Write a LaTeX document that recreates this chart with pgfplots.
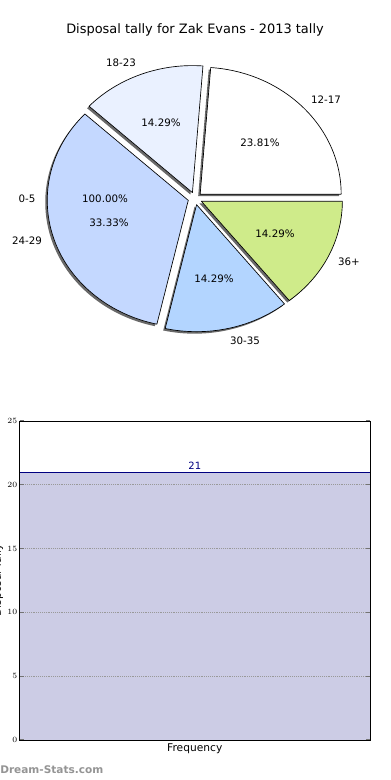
\documentclass[border=0pt]{standalone}
\usepackage{pgfplots}
\pgfplotsset{compat=1.18}
\usepackage{fontspec}
\setmainfont{DejaVu Sans}
\definecolor{c1217}{RGB}{255,255,255}
\definecolor{c1823}{RGB}{234,241,255}
\definecolor{c2429}{RGB}{196,216,255}
\definecolor{c3035}{RGB}{179,213,255}
\definecolor{c36}{RGB}{207,235,138}
\definecolor{shad}{RGB}{105,105,105}
\definecolor{areafill}{RGB}{204,204,229}
\definecolor{navyc}{RGB}{0,0,128}
% pie: counts per age group (total 21)
% #1 = count before slice, #2 = count of slice, #3 = colour
\newcommand\pieshadow[2]{%
  \pgfmathsetmacro\aS{#1*360/21}\pgfmathsetmacro\aE{(#1+#2)*360/21}\pgfmathsetmacro\aM{(#1+#2/2)*360/21}%
  \fill[shad] ([shift={(\aM:5.29pt and 4.76pt)},shift={(-1.5pt,-1.5pt)}]pc) -- ++(\aS:105.75pt and 95.25pt)
    arc[start angle=\aS, end angle=\aE, x radius=105.75pt, y radius=95.25pt] -- cycle;}
\newcommand\pieslice[3]{%
  \pgfmathsetmacro\aS{#1*360/21}\pgfmathsetmacro\aE{(#1+#2)*360/21}\pgfmathsetmacro\aM{(#1+#2/2)*360/21}%
  \filldraw[fill=#3, draw=black, line width=0.5pt, line join=round] ([shift={(\aM:5.29pt and 4.76pt)}]pc) -- ++(\aS:105.75pt and 95.25pt)
    arc[start angle=\aS, end angle=\aE, x radius=105.75pt, y radius=95.25pt] -- cycle;}
\begin{document}
\begin{tikzpicture}
\begin{scope}[x=0.75pt,y=-0.75pt]
\path[use as bounding box] (0,0) rectangle (390,780);
\node[font=\fontsize{9.7}{11}\selectfont] at (195,30) {Disposal tally for Zak Evans - 2013 tally};
\node[anchor=west, text=black!42, font=\bfseries\fontsize{7.9}{9}\selectfont, inner sep=0pt] at (0,770) {Dream-Stats.com};
\node[rotate=90, anchor=base, font=\fontsize{8}{9}\selectfont, inner sep=0pt] at (0.8,580.5) {Disposal Tally};
\end{scope}

\begin{axis}[at={(0pt,0pt)}, anchor=north west, scale only axis, width=292.5pt, height=300pt,
  xmin=0, xmax=390, ymin=0, ymax=400, y dir=reverse, hide axis, clip=false]
\addplot[draw=none] coordinates {(0,0)};
\coordinate (pc) at (axis cs:195,198.5);
\begin{scope}[every node/.style={font=\fontsize{7.7}{9}\selectfont, inner sep=0pt}]
\node at (axis cs:121,63) {18-23};
\node at (axis cs:326,100) {12-17};
\node at (axis cs:27,199) {0-5};
\node at (axis cs:27,241) {24-29};
\node at (axis cs:349,262) {36+};
\node at (axis cs:245,341) {30-35};
\end{scope}
\end{axis}
\pieshadow{0}{5}
\pieshadow{5}{3}
\pieshadow{8}{7}
\pieshadow{15}{3}
\pieshadow{18}{3}
\pieslice{0}{5}{c1217}
\pieslice{5}{3}{c1823}
\pieslice{8}{7}{c2429}
\pieslice{15}{3}{c3035}
\pieslice{18}{3}{c36}
\begin{scope}[x=0.75pt,y=-0.75pt, every node/.style={font=\fontsize{7.7}{9}\selectfont, inner sep=0pt}]
\node at (161,123) {14.29\%};
\node at (260,143) {23.81\%};
\node at (105,199) {100.00\%};
\node at (109,223) {33.33\%};
\node at (275,234) {14.29\%};
\node at (214,279) {14.29\%};
\end{scope}

\begin{axis}[at={(14.625pt,-555pt)}, anchor=south west, scale only axis,
  width=262.875pt, height=239.25pt,
  xmin=0, xmax=1, ymin=0, ymax=25, ytick={0,5,10,15,20,25}, xtick=\empty,
  ymajorgrids, grid style={densely dotted, black!40, line width=0.7pt},
  tick style={black!55, line width=0.8pt}, major tick length=3pt, tick align=inside,
  tick pos=both, yticklabel pos=left,
  tick label style={font=\fontsize{6.3}{7}\selectfont},
  yticklabel style={inner sep=1.5pt},
  xlabel={Frequency}, xlabel style={font=\fontsize{8}{9}\selectfont, at={(axis description cs:0.5,0)}, anchor=north, inner sep=2.5pt},
  axis line style={black, line width=0.6pt}, axis on top]
\addplot[fill=areafill, draw=none] coordinates {(0,21) (1,21)} \closedcycle;
\addplot[navyc, line width=0.8pt] coordinates {(0,21) (1,21)};
\node[text=navyc, anchor=south, font=\fontsize{7.5}{8}\selectfont, inner sep=1.5pt] at (axis cs:0.5,21) {21};
\end{axis}
\end{tikzpicture}
\end{document}
